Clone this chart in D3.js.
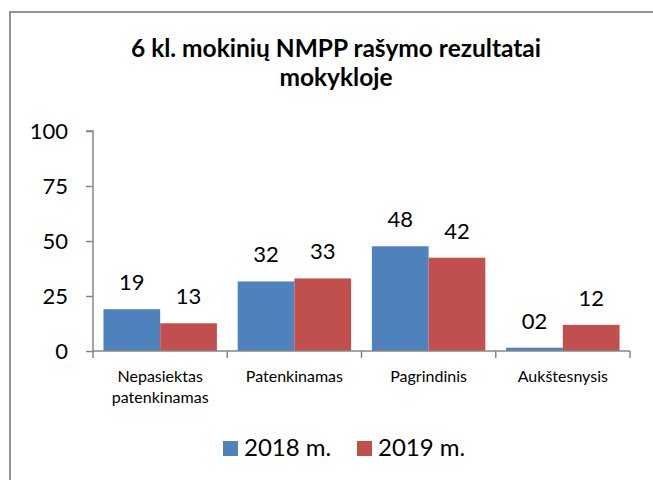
<!DOCTYPE html>
<html lang="lt">
<head>
<meta charset="UTF-8">
<title>6 kl. mokinių NMPP rašymo rezultatai</title>
<script src="https://d3js.org/d3.v7.min.js"></script>
<style>
  body { margin: 0; background: #fff; }
  svg text { font-family: Lato, "Open Sans", sans-serif; fill: #000; }
</style>
</head>
<body>
<div id="chart"></div>
<script>
// chart data
const categories = [["Nepasiektas", "patenkinamas"], ["Patenkinamas"], ["Pagrindinis"], ["Aukštesnysis"]];
const series = ["2018 m.", "2019 m."];
const values2018 = [19, 31.6, 47.6, 1.5];
const values2019 = [12.6, 33, 42.4, 11.9];
const yTicks = [0, 25, 50, 75, 100];
const titleLines = ["6 kl. mokinių NMPP rašymo rezultatai", "mokykloje"];
const colors = ["#4f81bd", "#c0504d"];

const W = 653, H = 480;
const plot = { left: 93, right: 630, top: 131, bottom: 351 };

const svg = d3.select("#chart").append("svg")
    .attr("width", W)
    .attr("height", H);

// outer frame
svg.append("rect")
    .attr("x", 10).attr("y", 12)
    .attr("width", W).attr("height", H)
    .attr("fill", "none")
    .attr("stroke", "#878787")
    .attr("stroke-width", 1.8);

// title
svg.append("text")
    .attr("text-anchor", "middle")
    .attr("font-weight", "bold")
    .attr("font-size", 24.5)
    .selectAll("tspan")
    .data(titleLines)
    .enter().append("tspan")
    .attr("x", 336)
    .attr("y", (d, i) => 57 + i * 29)
    .text(d => d);

const x0 = d3.scaleBand()
    .domain(d3.range(categories.length))
    .range([plot.left, plot.right])
    .paddingInner(0.155)
    .paddingOuter(0.078);

const x1 = d3.scaleBand()
    .domain(series)
    .range([0, x0.bandwidth()]);

const y = d3.scaleLinear()
    .domain([0, 100])
    .range([plot.bottom, plot.top]);

// y axis
const yAxis = svg.append("g")
    .attr("transform", `translate(${plot.left},0)`)
    .call(d3.axisLeft(y).tickValues(yTicks).tickSize(7).tickPadding(18));
yAxis.selectAll("text").attr("font-size", 22).attr("font-family", "Lato, sans-serif");
yAxis.selectAll("line, path").attr("stroke", "#868686").attr("stroke-width", 1.5);
yAxis.select(".domain").attr("d", `M-7,${plot.top}H0V${plot.bottom}`);

// bars
const data = series.map((s, si) => ({
    name: s,
    color: colors[si],
    values: si === 0 ? values2018 : values2019
}));

const fmt = d3.format("02.0f");

data.forEach(s => {
    const g = svg.append("g");
    g.selectAll("rect")
        .data(s.values)
        .enter().append("rect")
        .attr("x", (d, i) => x0(i) + x1(s.name))
        .attr("y", d => y(d))
        .attr("width", x1.bandwidth())
        .attr("height", d => y(0) - y(d))
        .attr("fill", s.color);
    g.selectAll("text")
        .data(s.values)
        .enter().append("text")
        .attr("text-anchor", "middle")
        .attr("font-size", 22)
        .attr("x", (d, i) => x0(i) + x1(s.name) + x1.bandwidth() / 2)
        .attr("y", d => y(d) - 19)
        .text(d => fmt(d));
});

// x axis
const step = (plot.right - plot.left) / categories.length;
const xAxis = svg.append("g")
    .attr("transform", `translate(0,${plot.bottom})`);
xAxis.append("path")
    .attr("d", `M${plot.left},0H${plot.right}`)
    .attr("stroke", "#868686").attr("stroke-width", 1.5);
xAxis.selectAll("line")
    .data(d3.range(categories.length + 1))
    .enter().append("line")
    .attr("x1", i => plot.left + i * step).attr("x2", i => plot.left + i * step)
    .attr("y1", 0).attr("y2", 7)
    .attr("stroke", "#868686").attr("stroke-width", 1.5);

xAxis.selectAll("text.cat")
    .data(categories)
    .enter().append("text")
    .attr("class", "cat")
    .attr("text-anchor", "middle")
    .attr("font-size", 16)
    .selectAll("tspan")
    .data((d, i) => d.map(t => ({ t, i })))
    .enter().append("tspan")
    .attr("x", d => x0(d.i) + x0.bandwidth() / 2)
    .attr("y", (d, j) => 31 + j * 21)
    .text(d => d.t);

// legend
const legend = svg.append("g").attr("transform", "translate(0,456)");
const legendX = [223, 357];
series.forEach((s, i) => {
    legend.append("rect")
        .attr("x", legendX[i]).attr("y", -15)
        .attr("width", 15).attr("height", 15)
        .attr("fill", colors[i]);
    legend.append("text")
        .attr("x", legendX[i] + 21).attr("y", 0)
        .attr("font-size", 24)
        .text(s);
});
</script>
</body>
</html>
